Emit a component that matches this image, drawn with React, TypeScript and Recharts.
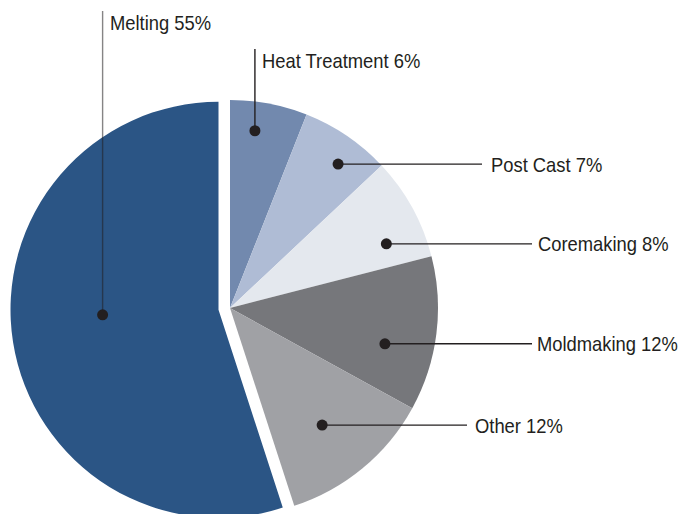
import React from 'react';
import { PieChart, Pie, Cell } from 'recharts';

const categories = ['Heat Treatment', 'Post Cast', 'Coremaking', 'Moldmaking', 'Other', 'Melting'];
const shares = [6, 7, 8, 12, 12, 55];
const colors = ['#7289ae', '#afbcd5', '#e4e8ee', '#76777b', '#a0a1a5', '#2b5585'];
const explodedCategory = 'Melting';

const data = categories.map((name, i) => ({ name, value: shares[i] }));

// label/leader layout (annotation placement only)
const labelLayout: Record<string, any> = {
  'Heat Treatment': { shift: 2.8, r: 179, dir: 'up', end: 49, tx: 262, ty: 68 },
  'Post Cast': { shift: -2.7, r: 180, dir: 'right', end: 482, tx: 491 },
  'Coremaking': { shift: -6.5, r: 169, dir: 'right', end: 532, tx: 538 },
  'Moldmaking': { shift: -5.8, r: 159, dir: 'right', end: 532, tx: 537 },
  'Other': { shift: -1.4, r: 149, dir: 'right', end: 467, tx: 475 },
  'Melting': { shift: -6.5, r: 116, dir: 'up', end: 11, tx: 110, ty: 30, faint: true },
};

const RAD = Math.PI / 180;
const FONT = "'Liberation Sans', Arial, sans-serif";
const NARROW = 0.875;

const Label = ({ x, y, text }: { x: number; y: number; text: string }) => (
  <text
    transform={`translate(${x}, ${y}) scale(${NARROW}, 1)`}
    x={0}
    y={0}
    fill="#231f20"
    fontSize={21}
    fontFamily={FONT}
    textAnchor="start"
  >
    {text}
  </text>
);

const makeLabel = (showExploded: boolean) => (props: any) => {
  const name = props.name ?? props.payload?.name;
  const isExploded = name === explodedCategory;
  if (isExploded !== showExploded) return null;
  const cfg = labelLayout[name];
  if (!cfg) return null;
  const idx = categories.indexOf(name);
  const ang = props.midAngle + cfg.shift;
  const x = props.cx + cfg.r * Math.cos(-ang * RAD);
  const y = props.cy + cfg.r * Math.sin(-ang * RAD);
  const text = `${name} ${shares[idx]}%`;
  const lineColor = '#231f20';
  if (cfg.dir === 'up') {
    return (
      <g>
        <line x1={x} y1={y} x2={x} y2={cfg.end} stroke={lineColor} strokeOpacity={cfg.faint ? 0.55 : 1} strokeWidth={1.4} />
        <circle cx={x} cy={y} r={5.5} fill="#231f20" />
        <Label x={cfg.tx} y={cfg.ty} text={text} />
      </g>
    );
  }
  return (
    <g>
      <line x1={x} y1={y} x2={cfg.end} y2={y} stroke={lineColor} strokeWidth={1.3} />
      <circle cx={x} cy={y} r={5.5} fill="#231f20" />
      <Label x={cfg.tx} y={y + 7.5} text={text} />
    </g>
  );
};

export default function App() {
  return (
    <div style={{ position: 'absolute', left: 0, top: 0, background: '#fff' }}>
      <PieChart width={681} height={514} margin={{ top: 0, right: 0, bottom: 0, left: 0 }}>
        <Pie
          data={data}
          dataKey="value"
          nameKey="name"
          cx={218.5}
          cy={309.8}
          outerRadius={208}
          startAngle={90}
          endAngle={-270}
          stroke="none"
          label={makeLabel(true)}
          labelLine={false}
          isAnimationActive={false}
        >
          {data.map((d, i) => (
            <Cell key={d.name} fill={d.name === explodedCategory ? colors[i] : 'transparent'} stroke="none" />
          ))}
        </Pie>
        <Pie
          data={data}
          dataKey="value"
          nameKey="name"
          cx={230}
          cy={308}
          outerRadius={208}
          startAngle={90}
          endAngle={-270}
          stroke="none"
          label={makeLabel(false)}
          labelLine={false}
          isAnimationActive={false}
        >
          {data.map((d, i) => (
            <Cell key={d.name} fill={d.name === explodedCategory ? 'transparent' : colors[i]} stroke="none" />
          ))}
        </Pie>
      </PieChart>
    </div>
  );
}
